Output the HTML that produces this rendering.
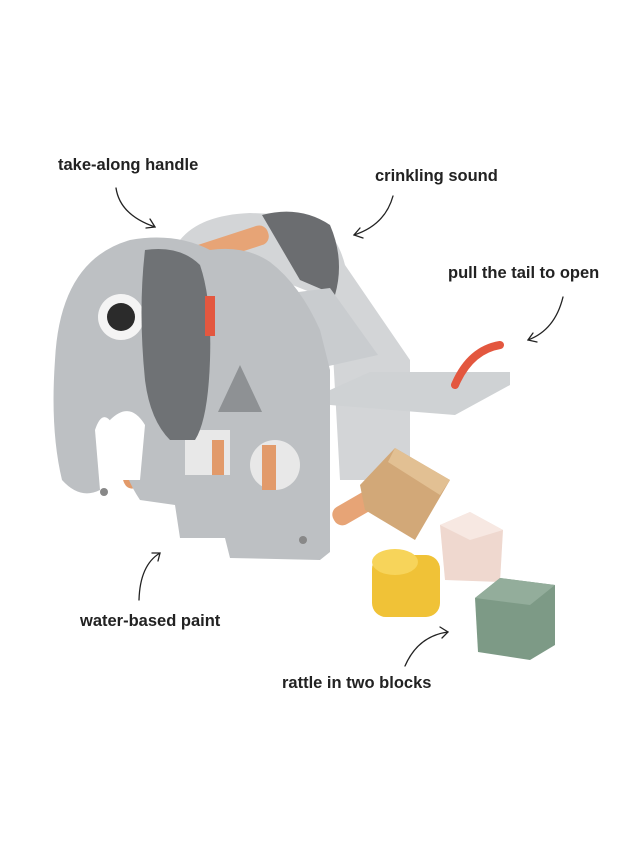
<!DOCTYPE html>
<html><head><meta charset="utf-8"><style>
html,body{margin:0;padding:0;background:#fff;}
svg{display:block}
text{font-family:"Liberation Sans",sans-serif;font-weight:bold;font-size:16.5px;fill:#222}
</style></head><body>
<svg width="640" height="853" viewBox="0 0 640 853">
<rect width="640" height="853" fill="#fff"/>
<text x="58" y="170">take-along handle</text>
<text x="375" y="181">crinkling sound</text>
<text x="448" y="278">pull the tail to open</text>
<text x="80" y="626">water-based paint</text>
<text x="282" y="688">rattle in two blocks</text>
<g fill="none" stroke="#222" stroke-width="1.3" stroke-linecap="round">
<path d="M116 188 Q120 215 155 227"/><path d="M146 228 L155 227 L150 219"/>
<path d="M393 196 Q385 225 354 235"/><path d="M360 228 L354 235 L363 238"/>
<path d="M563 297 Q555 330 528 340"/><path d="M533 333 L528 340 L537 342"/>
<path d="M139 600 Q140 565 160 553"/><path d="M152 553 L160 553 L158 561"/>
<path d="M405 666 Q418 636 448 632"/><path d="M440 627 L448 632 L442 638"/>
</g>
<path d="M180 240 Q200 215 250 213 L300 215 Q335 225 345 265 L410 360 L410 480 L340 480 L330 300 Z" fill="#d3d5d7"/>
<path d="M262 215 Q300 205 330 225 Q345 260 335 295 L300 280 Z" fill="#6b6d70"/>
<rect x="190" y="235" width="80" height="20" rx="9" fill="#e7a476" transform="rotate(-18 230 245)"/>
<rect x="120" y="455" width="90" height="18" rx="8" fill="#e29a6a" transform="rotate(-25 165 464)"/>
<rect x="330" y="495" width="60" height="20" rx="9" fill="#e7a476" transform="rotate(-30 360 505)"/>
<path d="M235 300 L330 288 L378 355 L275 378 Z" fill="#c9cccf"/>
<path d="M330 390 L370 372 L510 372 L510 385 L455 415 L330 405 Z" fill="#cfd2d4"/>
<path d="M455 385 Q470 350 500 345" stroke="#e3573f" stroke-width="8" fill="none" stroke-linecap="round"/>
<path d="M130 240 Q175 232 210 250 Q245 245 270 262 Q300 285 320 330 L330 370 L330 552 L320 560 L230 558 L225 538 L180 538 L175 505 L140 500 Q120 470 120 440 Q105 400 95 430 L100 490 Q80 500 62 480 Q50 430 55 360 Q60 260 130 240 Z" fill="#bdc0c3"/>
<path d="M110 420 Q130 400 145 425 L140 480 L115 480 Z" fill="#fff"/>
<rect x="185" y="430" width="45" height="45" fill="#e8e8e8"/>
<rect x="212" y="440" width="12" height="35" fill="#e29a6a"/>
<circle cx="275" cy="465" r="25" fill="#e8e8e8"/>
<rect x="262" y="445" width="14" height="45" fill="#e29a6a"/>
<path d="M240 365 L262 412 L218 412 Z" fill="#8e9194"/>
<circle cx="121" cy="317" r="23" fill="#f4f4f4"/>
<circle cx="121" cy="317" r="14" fill="#2b2b2b"/>
<path d="M145 250 Q180 245 200 265 Q212 300 210 360 Q208 420 195 440 L170 440 Q150 420 145 380 Q138 310 145 250 Z" fill="#6f7275"/>
<rect x="205" y="296" width="10" height="40" fill="#e3573f"/>
<circle cx="104" cy="492" r="4" fill="#888"/><circle cx="303" cy="540" r="4" fill="#888"/>
<path d="M360 485 L395 448 L450 480 L415 540 L365 510 Z" fill="#d2a878"/>
<path d="M395 448 L450 480 L440 495 L388 462 Z" fill="#e2c093"/>
<path d="M440 525 L470 512 L503 530 L500 582 L445 580 Z" fill="#efd8cf"/>
<path d="M440 525 L470 512 L503 530 L470 540 Z" fill="#f7e8e2"/>
<rect x="372" y="555" width="68" height="62" rx="14" fill="#f0c237"/>
<ellipse cx="395" cy="562" rx="23" ry="13" fill="#f7d45a"/>
<path d="M475 598 L500 578 L555 585 L555 645 L530 660 L478 652 Z" fill="#7d9a86"/>
<path d="M475 598 L500 578 L555 585 L530 605 Z" fill="#93ad9b"/>
</svg>
</body></html>
